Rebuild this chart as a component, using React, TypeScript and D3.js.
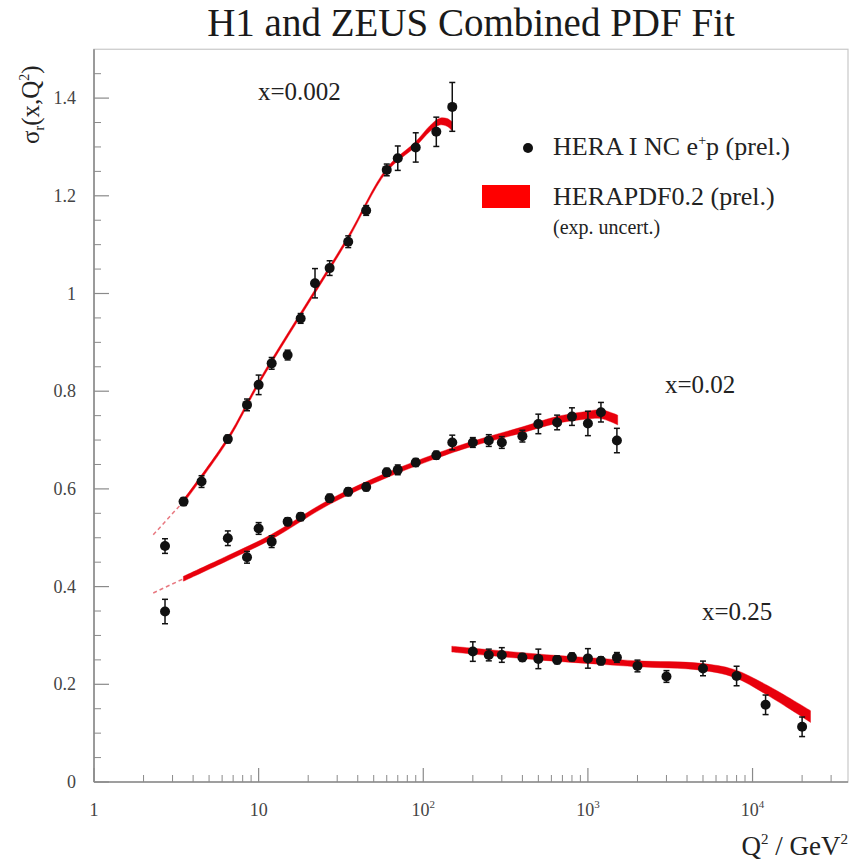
import React from "react";
import * as d3 from "d3";

// ---------- data ----------
const q2_x0002 = [2.7, 3.5, 4.5, 6.5, 8.5, 10, 12, 15, 18, 22, 27, 35, 45, 60, 70, 90, 120, 150];
const val_x0002 = [0.483, 0.574, 0.615, 0.702, 0.772, 0.813, 0.857, 0.874, 0.949, 1.021, 1.052, 1.106, 1.17, 1.253, 1.277, 1.299, 1.331, 1.382];
const err_x0002 = [0.015, 0.008, 0.012, 0.008, 0.012, 0.02, 0.012, 0.01, 0.01, 0.03, 0.015, 0.012, 0.01, 0.012, 0.025, 0.03, 0.03, 0.05];

const q2_x002 = [2.7, 6.5, 8.5, 10, 12, 15, 18, 27, 35, 45, 60, 70, 90, 120, 150, 200, 250, 300, 400, 500, 650, 800, 1000, 1200, 1500];
const val_x002 = [0.349, 0.499, 0.46, 0.519, 0.492, 0.533, 0.543, 0.581, 0.594, 0.604, 0.634, 0.639, 0.654, 0.669, 0.695, 0.695, 0.699, 0.695, 0.708, 0.733, 0.736, 0.748, 0.734, 0.757, 0.699];
const err_x002 = [0.025, 0.015, 0.012, 0.012, 0.012, 0.008, 0.008, 0.008, 0.008, 0.008, 0.008, 0.01, 0.008, 0.008, 0.015, 0.01, 0.012, 0.012, 0.012, 0.02, 0.015, 0.018, 0.025, 0.02, 0.025];

const q2_x025 = [200, 250, 300, 400, 500, 650, 800, 1000, 1200, 1500, 2000, 3000, 5000, 8000, 12000, 20000];
const val_x025 = [0.267, 0.26, 0.26, 0.255, 0.252, 0.25, 0.256, 0.253, 0.248, 0.255, 0.2375, 0.216, 0.2325, 0.217, 0.158, 0.113];
const err_x025 = [0.02, 0.012, 0.015, 0.008, 0.02, 0.008, 0.008, 0.02, 0.008, 0.01, 0.012, 0.012, 0.015, 0.02, 0.02, 0.02];

// fit curves (HERAPDF0.2 band): Q2 knots, central value, half-width
const fitQ2_x0002 = [3.49, 6.5, 10, 17.9, 34.4, 60, 90, 110, 126, 140, 150];
const fitV_x0002 = [0.574, 0.702, 0.817, 0.956, 1.11, 1.253, 1.306, 1.338, 1.352, 1.35, 1.342];
const fitW_x0002 = [0.004, 0.004, 0.004, 0.004, 0.004, 0.004, 0.005, 0.006, 0.007, 0.008, 0.009];
const dashQ2_x0002 = [2.29, 3.49];
const dashV_x0002 = [0.506, 0.574];

const fitQ2_x002 = [3.49, 6.46, 12, 26.8, 60, 119, 197, 401, 644, 998, 1203, 1517];
const fitV_x002 = [0.416, 0.458, 0.502, 0.573, 0.628, 0.667, 0.692, 0.721, 0.741, 0.751, 0.753, 0.741];
const fitW_x002 = [0.005, 0.005, 0.005, 0.005, 0.005, 0.005, 0.005, 0.006, 0.007, 0.008, 0.009, 0.01];
const dashQ2_x002 = [2.29, 3.49];
const dashV_x002 = [0.387, 0.416];

const fitQ2_x025 = [149, 496, 1191, 1990, 4830, 7700, 12270, 22500];
const fitV_x025 = [0.272, 0.256, 0.247, 0.242, 0.236, 0.2225, 0.188, 0.134];
const fitW_x025 = [0.006, 0.006, 0.006, 0.006, 0.007, 0.008, 0.01, 0.012];

const xTickVals = [1, 10, 100, 1000, 10000];
const xTickBase = ["1", "10", "10", "10", "10"];
const xTickExp = ["", "", "2", "3", "4"];
const yTickVals = [0, 0.2, 0.4, 0.6, 0.8, 1, 1.2, 1.4];
const yTickLabels = ["0", "0.2", "0.4", "0.6", "0.8", "1", "1.2", "1.4"];

const seriesLabels = ["x=0.002", "x=0.02", "x=0.25"];

// ---------- layout ----------
const W = 852;
const H = 865;
const X0 = 94, X1 = 848, Y0 = 782, Y1 = 49.25;
const FONT = "'Liberation Serif', 'DejaVu Serif', serif";
const RED = "#e8000c";

export default function App() {
  const x = d3.scaleLog().domain([1, 38000]).range([X0, X1]);
  const y = d3.scaleLinear().domain([0, 1.5]).range([Y0, Y1]);

  const area = d3
    .area<{ q: number; v: number; w: number }>()
    .x((d) => x(d.q))
    .y0((d) => y(d.v - d.w))
    .y1((d) => y(d.v + d.w))
    .curve(d3.curveCatmullRom.alpha(0.5));
  const line = d3
    .line<{ q: number; v: number }>()
    .x((d) => x(d.q))
    .y((d) => y(d.v));

  const bands = [
    { q: fitQ2_x0002, v: fitV_x0002, w: fitW_x0002 },
    { q: fitQ2_x002, v: fitV_x002, w: fitW_x002 },
    { q: fitQ2_x025, v: fitV_x025, w: fitW_x025 },
  ];
  const dashes = [
    { q: dashQ2_x0002, v: dashV_x0002 },
    { q: dashQ2_x002, v: dashV_x002 },
  ];
  const series = [
    { q: q2_x0002, v: val_x0002, e: err_x0002 },
    { q: q2_x002, v: val_x002, e: err_x002 },
    { q: q2_x025, v: val_x025, e: err_x025 },
  ];

  // minor ticks
  const xMinor: number[] = [];
  for (let dec = 1; dec <= 10000; dec *= 10) {
    for (let k = 2; k <= 9; k++) {
      const v = dec * k;
      if (v < 38000) xMinor.push(v);
    }
  }
  const yMinor: number[] = [];
  for (let i = 0; i <= 29; i++) {
    const v = i * 0.05;
    if (i % 4 !== 0) yMinor.push(v);
  }

  const axisColor = "#8a8a8a";
  const labelColor = "#444";

  return (
    <svg width={W} height={H} style={{ display: "block", position: "absolute", left: 0, top: 0 }}>
      <rect x={0} y={0} width={W} height={H} fill="#fff" />
      {/* title */}
      <text x={471} y={36} textAnchor="middle" fontFamily={FONT} fontSize={39} fill="#1a1a1a">
        H1 and ZEUS Combined PDF Fit
      </text>

      {/* frame */}
      <rect x={X0} y={Y1} width={X1 - X0} height={Y0 - Y1} fill="none" stroke="#c8c8c8" strokeWidth={1.2} />
      <line x1={X0} x2={X1} y1={Y0} y2={Y0} stroke={axisColor} strokeWidth={1.6} />
      <line x1={X0} x2={X0} y1={Y0} y2={Y1} stroke={axisColor} strokeWidth={1.6} />

      {/* x ticks */}
      {xTickVals.map((v, i) => (
        <g key={"xt" + i}>
          <line x1={x(v)} x2={x(v)} y1={Y0} y2={Y0 - 14} stroke={axisColor} strokeWidth={1.2} />
          <text x={x(v)} y={816} textAnchor="middle" fontFamily={FONT} fontSize={18} fill={labelColor}>
            {xTickBase[i]}
            {xTickExp[i] && (
              <tspan dy={-8} fontSize={11}>
                {xTickExp[i]}
              </tspan>
            )}
          </text>
        </g>
      ))}
      {xMinor.map((v, i) => (
        <line key={"xm" + i} x1={x(v)} x2={x(v)} y1={Y0} y2={Y0 - 7} stroke={axisColor} strokeWidth={1} />
      ))}

      {/* y ticks */}
      {yTickVals.map((v, i) => (
        <g key={"yt" + i}>
          <line x1={X0} x2={X0 + 15} y1={y(v)} y2={y(v)} stroke={axisColor} strokeWidth={1.2} />
          <text x={76} y={y(v) + 6} textAnchor="end" fontFamily={FONT} fontSize={18} fill={labelColor}>
            {yTickLabels[i]}
          </text>
        </g>
      ))}
      {yMinor.map((v, i) => (
        <line key={"ym" + i} x1={X0} x2={X0 + 7} y1={y(v)} y2={y(v)} stroke={axisColor} strokeWidth={1} />
      ))}

      {/* axis titles */}
      <text transform="translate(39,144) rotate(-90)" fontFamily={FONT} fontSize={25} fill="#222">
        σ
        <tspan dy={5} fontSize={14}>r</tspan>
        <tspan dy={-5}>(x,Q</tspan>
        <tspan dy={-10} fontSize={14}>2</tspan>
        <tspan dy={10}>)</tspan>
      </text>
      <text x={848} y={855} textAnchor="end" fontFamily={FONT} fontSize={27} fill="#222">
        Q<tspan dy={-11} fontSize={15}>2</tspan>
        <tspan dy={11}> / GeV</tspan>
        <tspan dy={-11} fontSize={15}>2</tspan>
      </text>

      {/* dashed extrapolations */}
      {dashes.map((d, i) => (
        <path
          key={"dash" + i}
          d={line(d.q.map((q, j) => ({ q, v: d.v[j] }))) || ""}
          fill="none"
          stroke="#e87880"
          strokeWidth={1.5}
          strokeDasharray="4 3"
        />
      ))}

      {/* fit bands */}
      {bands.map((b, i) => (
        <path
          key={"band" + i}
          d={area(b.q.map((q, j) => ({ q, v: b.v[j], w: b.w[j] }))) || ""}
          fill={RED}
          stroke={RED}
          strokeWidth={0.8}
          strokeOpacity={0.5}
        />
      ))}

      {/* data points */}
      {series.map((s, i) => (
        <g key={"s" + i}>
          {s.q.map((q, j) => {
            const cx = x(q);
            const yt = y(s.v[j] + s.e[j]);
            const yb = y(s.v[j] - s.e[j]);
            return (
              <g key={j}>
                <line x1={cx} x2={cx} y1={yt} y2={yb} stroke="#111" strokeWidth={1.5} />
                <line x1={cx - 3} x2={cx + 3} y1={yt} y2={yt} stroke="#111" strokeWidth={1.5} />
                <line x1={cx - 3} x2={cx + 3} y1={yb} y2={yb} stroke="#111" strokeWidth={1.5} />
                <circle cx={cx} cy={y(s.v[j])} r={5} fill="#111" />
              </g>
            );
          })}
        </g>
      ))}

      {/* series labels */}
      <text x={258} y={100} fontFamily={FONT} fontSize={25} fill="#222">{seriesLabels[0]}</text>
      <text x={665} y={393} fontFamily={FONT} fontSize={25} fill="#222">{seriesLabels[1]}</text>
      <text x={702} y={620} fontFamily={FONT} fontSize={25} fill="#222">{seriesLabels[2]}</text>

      {/* legend */}
      <circle cx={528} cy={148} r={5} fill="#111" />
      <text x={553} y={155} fontFamily={FONT} fontSize={26} fill="#222">
        HERA I NC e<tspan dy={-10} fontSize={14}>+</tspan>
        <tspan dy={10}>p (prel.)</tspan>
      </text>
      <rect x={482} y={185} width={48} height={23} fill="#f00" />
      <text x={553} y={205} fontFamily={FONT} fontSize={26} fill="#222">
        HERAPDF0.2 (prel.)
      </text>
      <text x={553} y={234} fontFamily={FONT} fontSize={20} fill="#222">
        (exp. uncert.)
      </text>
    </svg>
  );
}
